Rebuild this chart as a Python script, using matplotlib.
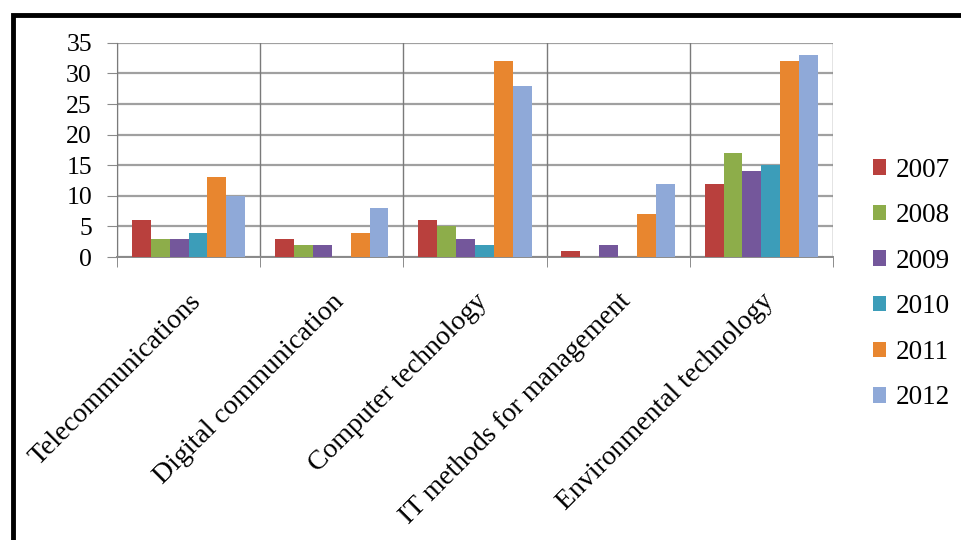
import matplotlib
matplotlib.use("Agg")
import matplotlib.pyplot as plt
from matplotlib.patches import Rectangle
import numpy as np

plt.rcParams['font.family'] = ['Liberation Serif', 'DejaVu Serif']

categories = ["Telecommunications", "Digital communication", "Computer technology",
              "IT methods for management", "Environmental technology"]
years = ["2007", "2008", "2009", "2010", "2011", "2012"]
v2007 = [6, 3, 6, 1, 12]
v2008 = [3, 2, 5, 0, 17]
v2009 = [3, 2, 3, 2, 14]
v2010 = [4, 0, 2, 0, 15]
v2011 = [13, 4, 32, 7, 32]
v2012 = [10, 8, 28, 12, 33]
series = [v2007, v2008, v2009, v2010, v2011, v2012]
colors = ["#B9403D", "#8DAD4A", "#74579B", "#3C9DB9", "#E8862F", "#8FA9D8"]

fig = plt.figure(figsize=(9.61, 5.4), dpi=100)
ax = fig.add_axes([0.1217, 0.524, 0.745, 0.3966])

x = np.arange(len(categories))
w = 0.132
for i, (vals, c, yr) in enumerate(zip(series, colors, years)):
    ax.bar(x + (i - 2.5) * w, vals, w, color=c, label=yr, zorder=3)

ax.set_xlim(-0.5, len(categories) - 0.5)
ax.set_ylim(0, 35)
ax.set_yticks(range(0, 36, 5))

# category separators
for b in np.arange(-0.5, len(categories), 1.0):
    ax.axvline(b, color="#7a7a7a", lw=1.0, zorder=2)
ax.grid(axis="y", color="#a0a0a0", lw=1.6, zorder=1)

for s in ["top", "right"]:
    ax.spines[s].set_visible(False)
ax.spines["left"].set_color("#7a7a7a")
ax.spines["bottom"].set_color("#8a8a8a")
ax.spines["bottom"].set_linewidth(1.4)

ax.set_xticks(x)
ax.set_xticklabels(categories, rotation=45, ha="right", va="top",
                   rotation_mode="anchor", fontsize=20)
ax.set_xticks(np.arange(-0.5, len(categories), 1.0), minor=True)
ax.tick_params(axis="x", which="major", length=0, pad=23)
ax.tick_params(axis="x", which="minor", length=7, color="#7a7a7a", direction="out")
ax.tick_params(axis="y", length=7, color="#8a8a8a", labelsize=18.5, pad=11)

fig.legend(loc="center left", bbox_to_anchor=(0.897, 0.474), frameon=False,
           fontsize=19.5, handlelength=0.5, handleheight=0.5, handletextpad=0.35,
           labelspacing=0.76, borderaxespad=0)

# black frame around the figure (extends off the right and bottom edges)
fig.add_artist(Rectangle((0.0135, -0.2), 1.2, 1.173, transform=fig.transFigure,
                         fill=False, ec="black", lw=3.5, clip_on=False))

fig.savefig("out.png", dpi=100)
